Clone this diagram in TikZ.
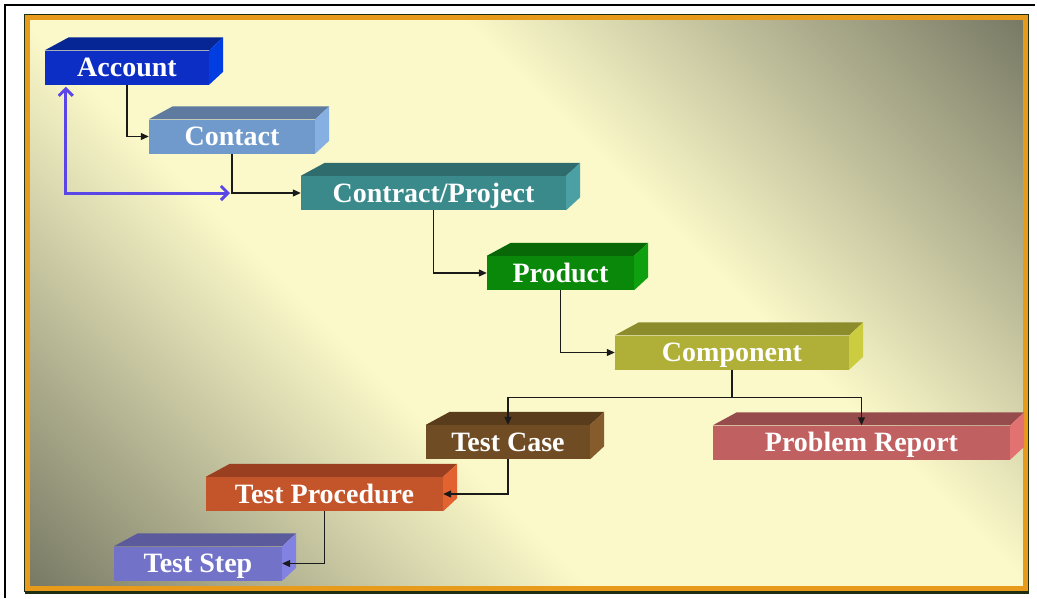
\documentclass[tikz,border=0pt]{standalone}
\usepackage{fontspec}
\setmainfont{Liberation Serif}
\usetikzlibrary{arrows.meta}

% wall colours
\definecolor{wallDark}{HTML}{7A7B66}
\definecolor{wallLight}{HTML}{FBF9C9}
\definecolor{frameorange}{HTML}{E89A1A}
\definecolor{framedark}{HTML}{1E2E12}
\definecolor{linkgray}{HTML}{1A1A1A}
\definecolor{backblue}{HTML}{5A46E6}

% front / top / side of each slab
\definecolor{accfront}{HTML}{0C2EC4}\definecolor{acctop}{HTML}{062696}\definecolor{accside}{HTML}{003EE2}
\definecolor{confront}{HTML}{719ACC}\definecolor{contop}{HTML}{5E7A9E}\definecolor{conside}{HTML}{86B0E2}
\definecolor{ctrfront}{HTML}{3A8A8C}\definecolor{ctrtop}{HTML}{2E6C6E}\definecolor{ctrside}{HTML}{4AA0A4}
\definecolor{prdfront}{HTML}{0A880A}\definecolor{prdtop}{HTML}{086808}\definecolor{prdside}{HTML}{0EA00E}
\definecolor{cmpfront}{HTML}{B0B038}\definecolor{cmptop}{HTML}{8C8C2C}\definecolor{cmpside}{HTML}{CCCC40}
\definecolor{tcafront}{HTML}{704C24}\definecolor{tcatop}{HTML}{583C1C}\definecolor{tcaside}{HTML}{865C2C}
\definecolor{repfront}{HTML}{C06060}\definecolor{reptop}{HTML}{964C4C}\definecolor{repside}{HTML}{E27272}
\definecolor{tprfront}{HTML}{C4542A}\definecolor{tprtop}{HTML}{9A4020}\definecolor{tprside}{HTML}{E26230}
\definecolor{tstfront}{HTML}{7272C8}\definecolor{tsttop}{HTML}{5A5A9C}\definecolor{tstside}{HTML}{8282E2}

\pgfdeclareverticalshading{wallshade}{100bp}{color(0bp)=(wallDark); color(15bp)=(wallDark);
  color(40bp)=(wallLight); color(60bp)=(wallLight); color(85bp)=(wallDark); color(100bp)=(wallDark)}

\begin{document}
\begin{tikzpicture}[x=1pt, y=-1pt,
  slab/.style={inner sep=0pt, minimum height=34pt, text=white, text height=18.5pt, text depth=0pt,
    font=\bfseries\fontsize{28}{30}\selectfont},
  link/.style={draw=linkgray, line width=1.1pt, -{Triangle[length=8pt,width=7pt]}},
  backlink/.style={draw=backblue, line width=3pt,
    {Straight Barb[length=7pt,width=14pt]}-{Straight Barb[length=7pt,width=14pt]}}]

\useasboundingbox (0,0) rectangle (1037,598);

% outer frame
\draw[line width=2pt] (5,598) -- (5,5) -- (1035,5);

% wall
\path[shading=wallshade, shading angle=-45] (27,17) rectangle (1026,589);
\draw[line width=1pt, framedark] (24.5,14.5) rectangle (1028.5,591.5);
\draw[line width=3pt, framedark] (24.5,592) -- (1028.5,592);
\draw[line width=5pt, frameorange] (27.5,17.5) rectangle (1025.5,588.5);

\node[slab, fill=accfront, minimum width=164pt] (account)   at (127,67.5)   {Account};
\node[slab, fill=confront, minimum width=166pt] (contact)   at (232,136.5)  {Contact};
\node[slab, fill=ctrfront, minimum width=265pt] (contract)  at (433.5,193)  {Contract/Project};
\node[slab, fill=prdfront, minimum width=147pt] (product)   at (560.5,273)  {Product};
\node[slab, fill=cmpfront, minimum width=234pt] (component) at (732,352.5)  {Component};
\node[slab, fill=tcafront, minimum width=164pt] (testcase)  at (508,442)    {Test Case};
\node[slab, fill=repfront, minimum width=297pt] (report)    at (861.5,442.5){Problem Report};
\node[slab, fill=tprfront, minimum width=237pt] (testproc)  at (324.5,494)  {Test Procedure};
\node[slab, fill=tstfront, minimum width=168pt] (teststep)  at (198,563.5)  {Test Step};

% top and side faces
\foreach \n/\up/\rt in {%
    account/acctop/accside,
    contact/contop/conside,
    contract/ctrtop/ctrside,
    product/prdtop/prdside,
    component/cmptop/cmpside,
    testcase/tcatop/tcaside,
    report/reptop/repside,
    testproc/tprtop/tprside,
    teststep/tsttop/tstside}
{
  \fill[fill=\up] (\n.north west) -- ++(24,-13) -- ([shift={(14,-13)}]\n.north east) -- (\n.north east) -- cycle;
  \fill[fill=\rt] (\n.north east) -- ([shift={(14,-13)}]\n.north east)
    -- ([shift={(14,-13)}]\n.south east) -- (\n.south east) -- cycle;
}

\foreach \f/\t/\a in {% from/to/side
    account/contact/west,
    contact/contract/west,
    contract/product/west,
    product/component/west,
    testcase/testproc/east,
    testproc/teststep/east}
  \draw[link] (\f.south) |- (\t.\a);

% component splits into two
\coordinate (split) at ([yshift=-27.5pt]component.south);
\draw[link] (component.south) -- (split) -| (testcase.north);
\draw[link] (split) -| (report.north);

% back link to the account
\coordinate (join) at (contact.south |- contract.west);
\draw[backlink] ([xshift=21pt, yshift=-2pt]account.south west) |- ([xshift=-2pt]join);

\end{tikzpicture}
\end{document}
